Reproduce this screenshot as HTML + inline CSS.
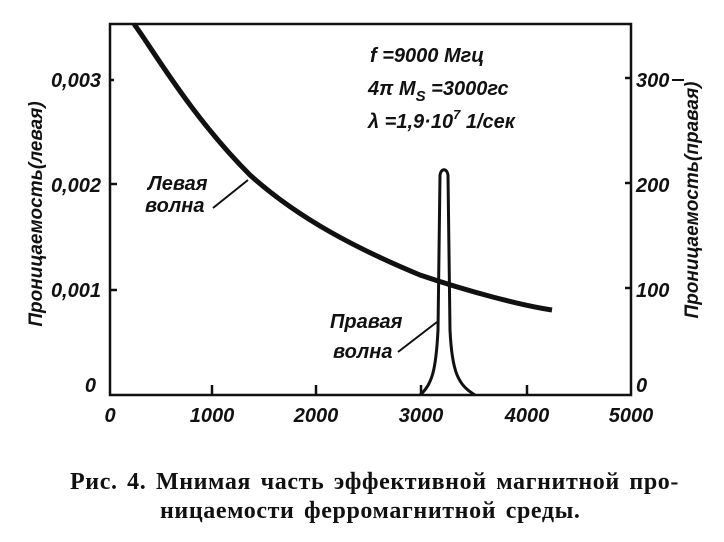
<!DOCTYPE html>
<html><head><meta charset="utf-8"><style>
body{margin:0;background:#fff;}
svg text{font-family:"Liberation Sans",sans-serif;font-style:italic;fill:#111;}
.cap{position:absolute;left:70px;top:468px;width:660px;font-family:"Liberation Serif",serif;font-weight:bold;font-size:24px;letter-spacing:0.6px;word-spacing:3px;line-height:29px;color:#111;white-space:nowrap;}
</style></head><body>
<div style="position:relative;width:724px;height:542px;overflow:hidden">
<svg width="724" height="542" style="position:absolute;left:0;top:0">
<g stroke="#111" fill="none" stroke-width="2.5">
<path d="M110,24 H631 V395 H110 Z"/>
<path d="M110,184 h7 M110,290 h7 M110,80 h4 M212,395 v-10 M316,395 v-10 M421,395 v-10 M527,395 v-10 M631,78 h-6 M631,183 h-6 M631,288 h-6"/>
<path d="M134,24 C150,45 190,115 250,175 C300,220 360,250 420,275 C470,292 520,305 552,310" stroke-width="5"/>
<path d="M420,395 C432,385 436,370 438,330 L440,175 C441,168 447,168 448,175 L450,330 C452,372 458,385 475,395" stroke-width="3"/>
<path d="M213,208 L248,180 M398,352 L437,322 M672,80 L684,80" stroke-width="2"/>
</g>
<g font-size="20" font-weight="bold">
<text x="101" y="87" text-anchor="end">0,003</text>
<text x="101" y="192" text-anchor="end">0,002</text>
<text x="101" y="297" text-anchor="end">0,001</text>
<text x="96" y="392" text-anchor="end">0</text>
<text x="636" y="87">300</text>
<text x="636" y="192">200</text>
<text x="636" y="297">100</text>
<text x="636" y="392">0</text>
<text x="110" y="422" text-anchor="middle">0</text>
<text x="212" y="422" text-anchor="middle">1000</text>
<text x="316" y="422" text-anchor="middle">2000</text>
<text x="421" y="422" text-anchor="middle">3000</text>
<text x="527" y="422" text-anchor="middle">4000</text>
<text x="631" y="422" text-anchor="middle">5000</text>
<text x="148" y="190">Левая</text>
<text x="145" y="212">волна</text>
<text x="330" y="328">Правая</text>
<text x="333" y="358">волна</text>
<text x="370" y="62">f =9000 Мгц</text>
<text x="368" y="95">4π M<tspan font-size="15" dy="6">S</tspan><tspan dy="-6"> =3000гс</tspan></text>
<text x="368" y="128">λ =1,9·10<tspan font-size="13" dy="-9">7</tspan><tspan dy="9"> 1/сек</tspan></text>
<text transform="translate(42,214) rotate(-90)" text-anchor="middle" font-size="19">Проницаемость(левая)</text>
<text transform="translate(698,200) rotate(-90)" text-anchor="middle" font-size="19">Проницаемость(правая)</text>
</g>
</svg>
<div class="cap">Рис. 4. Мнимая часть эффективной магнитной про-<br><span style="padding-left:90px">ницаемости ферромагнитной среды.</span></div>
</div>
</body></html>
